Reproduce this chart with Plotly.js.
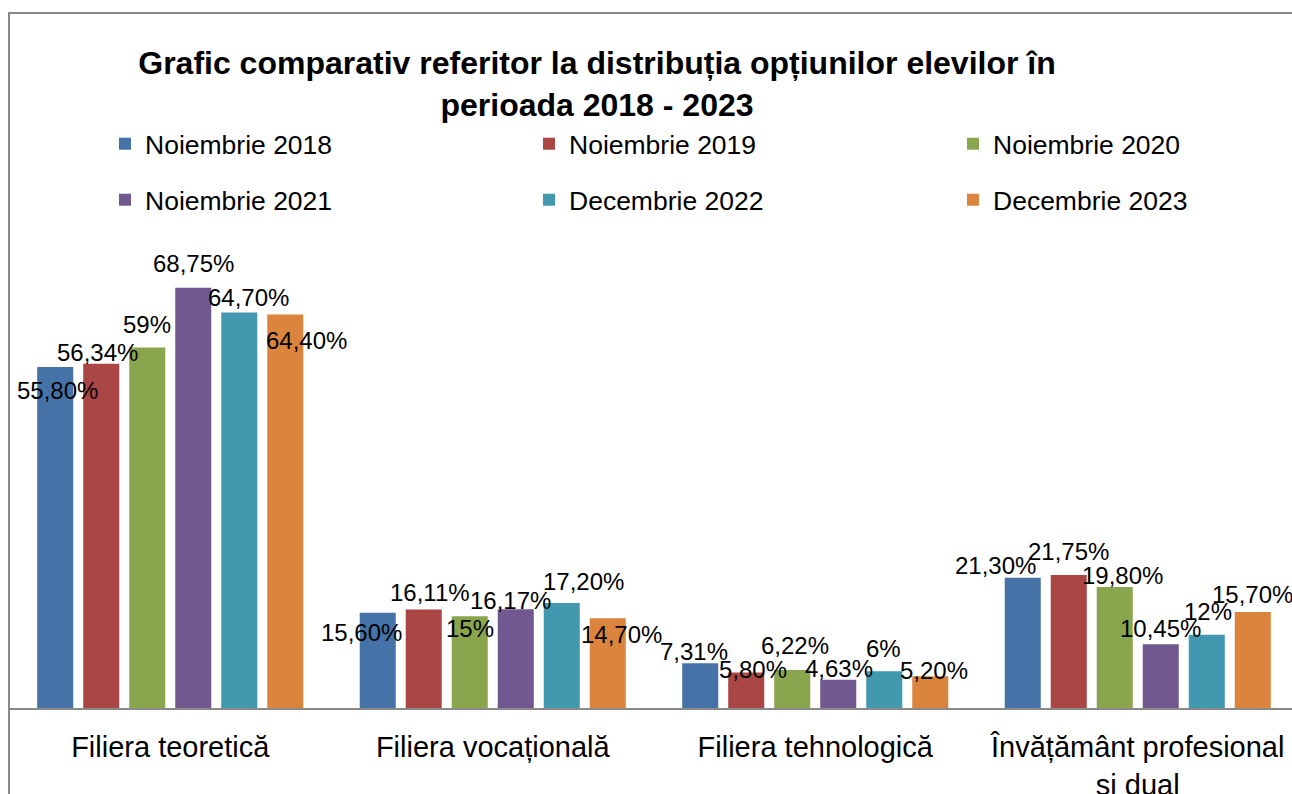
<!DOCTYPE html>
<html>
<head>
<meta charset="utf-8">
<script src="https://cdn.plot.ly/plotly-3.0.1.min.js"></script>
<style>
  html, body { margin: 0; padding: 0; overflow: hidden; background: #fff; width: 1292px; height: 794px; }
  #wrap { position: relative; width: 1292px; height: 794px; overflow: hidden; }
  #chart { position: absolute; left: 0; top: 0; }
  #frame { position: absolute; left: 8px; top: 12px; width: 2000px; height: 2000px; border-left: 2px solid #898989; border-top: 2px solid #898989; pointer-events: none; }
</style>
</head>
<body>
<div id="wrap">
  <div id="chart"></div>
  <div id="frame"></div>
</div>
<script>
// ---- data ----
const categories = ["Filiera teoretică", "Filiera vocațională", "Filiera tehnologică", "Învățământ profesional<br>și dual"];
const seriesNames = ["Noiembrie 2018", "Noiembrie 2019", "Noiembrie 2020", "Noiembrie 2021", "Decembrie 2022", "Decembrie 2023"];
const nov2018 = [55.80, 15.60, 7.31, 21.30];
const nov2019 = [56.34, 16.11, 5.80, 21.75];
const nov2020 = [59, 15, 6.22, 19.80];
const nov2021 = [68.75, 16.17, 4.63, 10.45];
const dec2022 = [64.70, 17.20, 6, 12];
const dec2023 = [64.40, 14.70, 5.20, 15.70];

// ---- style ----
const colors = ["#4572A7", "#AA4643", "#89A54E", "#71588F", "#4198AF", "#DB843D"];
// label offsets in px relative to bar centre / bar top (dx right, dy down), per series per category
const labelOffsets = [
  [[2, 23], [-16, 20], [-6, -12], [-27, -12]],
  [[-4, -11], [6, -17], [7, -3], [0, -24]],
  [[0, -23], [0, 12], [3, -24], [8, -12]],
  [[0, -24], [-5, -9], [1, -11], [0, -16]],
  [[9, -15], [22, -21], [-1, -23], [1, -23]],
  [[21, 26], [14, 16], [4, -6], [0, -18]]
];

const allSeries = [nov2018, nov2019, nov2020, nov2021, dec2022, dec2023];
const W = 1600, H = 820;
const bargap = 0.144, bargroupgap = 0.217;
const slot = (1 - bargap) / allSeries.length;
const FONT = 'Liberation Sans, Arial, sans-serif';

function fmt(v) {
  const s = Number.isInteger(v) ? String(v) : v.toFixed(2);
  return s.replace('.', ',') + '%';
}

const xIdx = categories.map((_, i) => i);
const traces = allSeries.map((vals, s) => ({
  type: 'bar',
  name: seriesNames[s],
  x: xIdx,
  y: vals,
  marker: { color: colors[s] },
  legend: s < 3 ? 'legend' : 'legend2',
  hoverinfo: 'skip'
}));

const annotations = [];
allSeries.forEach((vals, s) => {
  vals.forEach((v, c) => {
    const off = labelOffsets[s][c];
    annotations.push({
      x: c + (s - (allSeries.length - 1) / 2) * slot,
      y: v,
      xref: 'x', yref: 'y',
      text: fmt(v),
      showarrow: false,
      xanchor: 'center', yanchor: 'middle',
      xshift: off[0], yshift: -off[1],
      font: { family: FONT, size: 24, color: '#000' }
    });
  });
});

const legendCommon = {
  orientation: 'h',
  xref: 'container', yref: 'container',
  xanchor: 'left', yanchor: 'middle',
  x: 105 / W,
  entrywidth: 379, entrywidthmode: 'pixels',
  font: { family: FONT, size: 26.5, color: '#000' },
  bgcolor: 'rgba(0,0,0,0)',
  itemclick: false, itemdoubleclick: false
};

const layout = {
  width: W, height: H,
  margin: { l: 9, r: W - 1299, t: 218, b: H - 708 },
  paper_bgcolor: '#fff', plot_bgcolor: '#fff',
  font: { family: FONT, color: '#000' },
  barmode: 'group', bargap: bargap, bargroupgap: bargroupgap,
  title: {
    text: '<b>Grafic comparativ referitor la distribuția opțiunilor elevilor în<br>perioada 2018 - 2023</b>',
    xref: 'container', yref: 'container',
    x: 597 / W, xanchor: 'center',
    y: 1 - 74 / H, yanchor: 'top',
    font: { family: FONT, size: 32, color: '#000' }
  },
  legend: Object.assign({}, legendCommon, { y: 1 - 144 / H }),
  legend2: Object.assign({}, legendCommon, { y: 1 - 200 / H }),
  xaxis: {
    type: 'linear',
    range: [-0.5, categories.length - 0.5],
    tickmode: 'array', tickvals: xIdx, ticktext: categories,
    showgrid: false, zeroline: false,
    showline: true, linecolor: '#898989', linewidth: 2,
    ticks: '', ticklabelstandoff: 12,
    tickfont: { family: FONT, size: 29, color: '#000' },
    fixedrange: true
  },
  yaxis: {
    range: [0, 79.2],
    visible: false, showgrid: false, zeroline: false,
    fixedrange: true
  },
  annotations: annotations,
  showlegend: true
};

Plotly.newPlot('chart', traces, layout, { displayModeBar: false, staticPlot: true });
</script>
</body>
</html>
